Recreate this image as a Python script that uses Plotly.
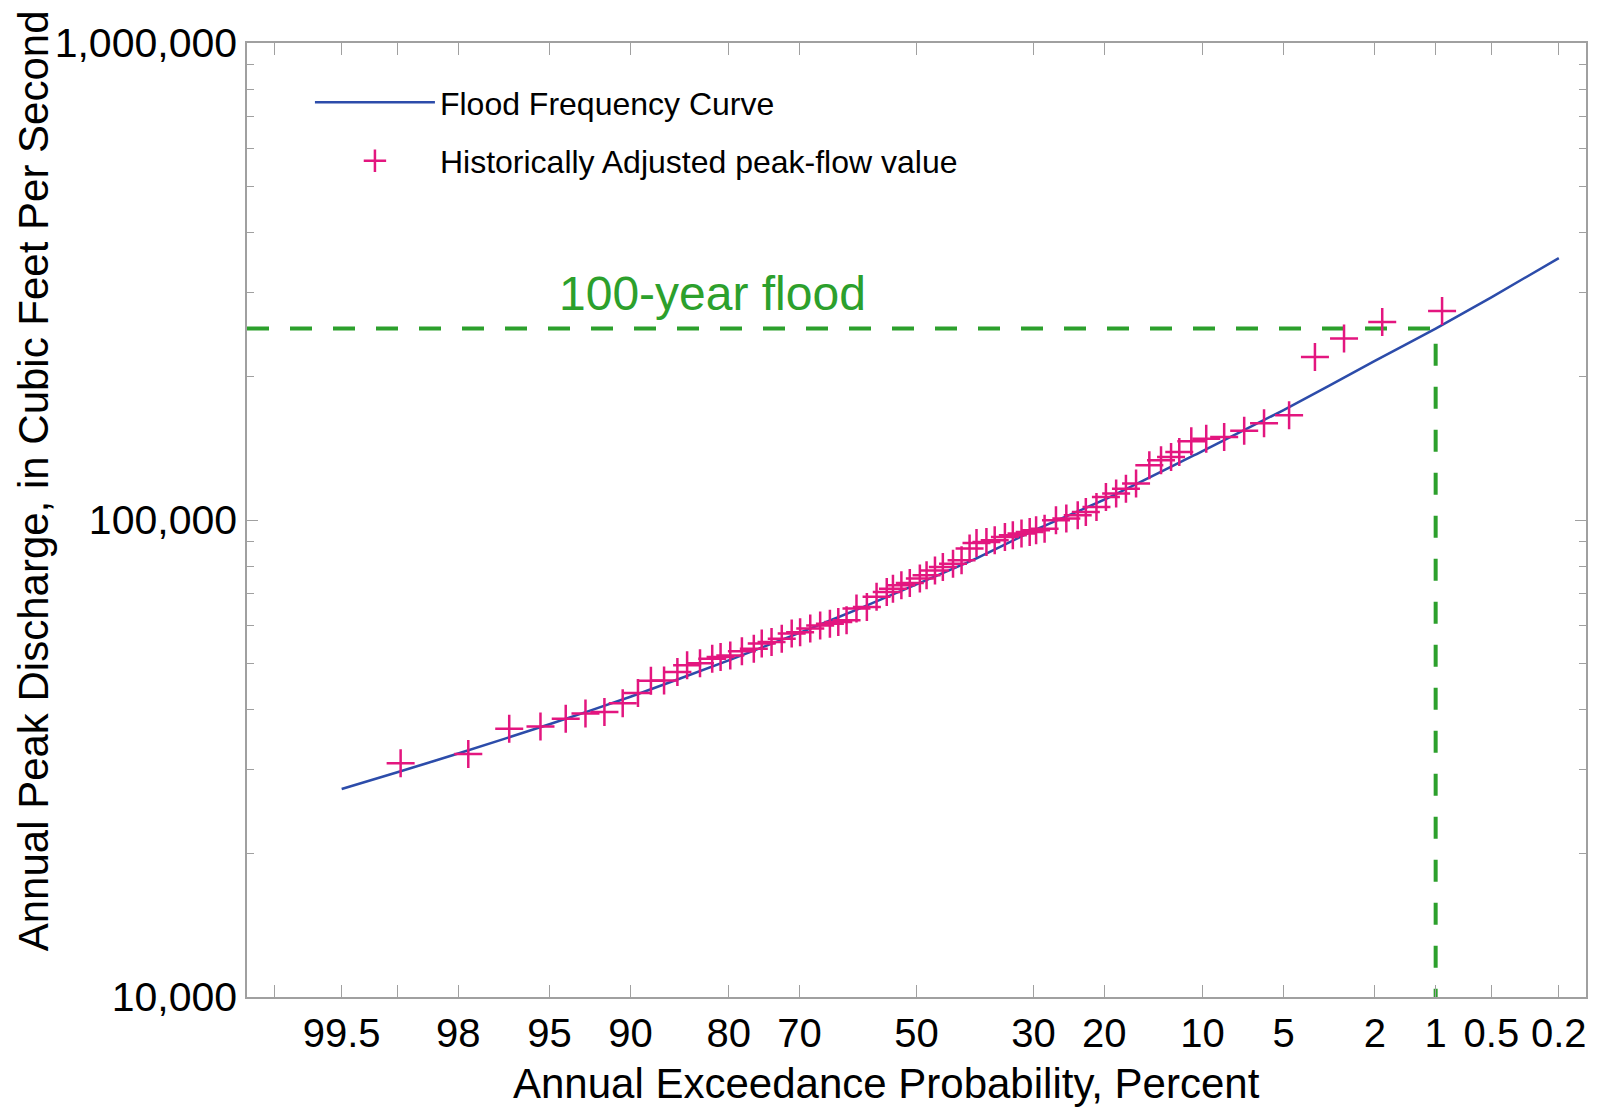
import plotly.graph_objects as go
from statistics import NormalDist
import math

# ---------------- data ----------------
# Historically adjusted annual peak flows: exceedance probability (%) and discharge (cfs)
exceed_pct = [98.96, 97.77, 96.6, 95.4, 94.2, 93.1, 91.9, 90.6, 89.4, 88.3,
              87.1, 85.8, 84.8, 83.4, 82.0, 81.0, 79.8, 78.3, 76.7, 75.6,
              74.2, 72.7, 71.2, 69.9, 68.3, 66.7, 65.1, 63.7, 62.3, 60.6,
              58.8, 57.1, 55.3, 54.2, 52.7, 51.2, 49.4, 48.2, 46.7, 45.3,
              43.5, 42.0, 40.6, 39.4, 37.7, 36.3, 34.6, 33.3, 31.9, 30.6,
              29.6, 28.3, 26.6, 25.1, 23.5, 22.4, 21.0, 19.8, 18.55, 17.4,
              16.26, 14.84, 13.66, 12.7, 11.95, 10.91, 9.71, 8.40, 7.10, 5.97,
              4.75, 3.71, 2.77, 1.845, 0.926]
peak_cfs = [30900, 32300, 36500, 36900, 38300, 39300, 39600, 41300, 43400, 46000,
            46100, 48000, 49600, 50100, 51200, 51600, 52000, 53100, 53700, 55100,
            55500, 56400, 57800, 58200, 59200, 60100, 60600, 61100, 61600, 65200,
            65700, 69000, 70600, 71800, 73000, 73800, 75400, 76600, 78400, 79700,
            81000, 82300, 87100, 89500, 89900, 90700, 92100, 92900, 93700, 94400,
            95200, 95900, 99900, 100700, 102300, 103900, 106500, 111700, 113600, 116300,
            119200, 130200, 133400, 135500, 138900, 146200, 148100, 149300, 153800, 159500,
            165800, 219600, 240100, 260200, 274300]

# Flood frequency curve
curve_pct = [99.5, 99, 98, 95, 90, 80, 70, 60, 50, 40, 30, 20, 10, 5, 2, 1, 0.5, 0.2]
curve_cfs = [27300, 29600, 32400, 37300, 42600, 50800, 58000, 65300, 73300, 82500,
             95000, 110300, 139500, 170000, 215500, 252000, 293000, 354000]

# 100-year flood
flood_pct = 1
flood_cfs = 252000

# Axis ticks
x_tick_pct = [99.8, 99.5, 99, 98, 95, 90, 80, 70, 50, 30, 20, 10, 5, 2, 1, 0.5, 0.2]
x_tick_text = ["", "99.5", "", "98", "95", "90", "80", "70", "50", "30", "20",
               "10", "5", "2", "1", "0.5", "0.2"]
y_tick_vals = [10000, 100000, 1000000]
y_tick_text = ["10,000", "100,000", "1,000,000"]
y_minor_vals = [m * 10 ** e for e in (4, 5) for m in range(2, 10)]

# ---------------- helpers ----------------
nd = NormalDist()


def zpos(p):
    """normal-probability position of an exceedance percentage"""
    return nd.inv_cdf(1 - p / 100.0)


X_RANGE = [-3.0, 3.0]

GREEN = "#2ca02c"
BLUE = "#2c4caa"
PINK = "#e3167f"
AXIS = "#a0a0a0"
FONT = "Liberation Sans, Arial, sans-serif"

fig = go.Figure()

# dashed 100-year flood guide lines
fig.add_trace(go.Scatter(
    x=[X_RANGE[0], zpos(flood_pct), zpos(flood_pct)],
    y=[flood_cfs, flood_cfs, 10000],
    mode="lines",
    line=dict(color=GREEN, width=4, dash="22px,21px"),
    showlegend=False, hoverinfo="skip"))

fig.add_trace(go.Scatter(
    x=[zpos(p) for p in curve_pct], y=curve_cfs,
    mode="lines", name="Flood Frequency Curve",
    line=dict(color=BLUE, width=2.5, shape="spline", smoothing=0.6),
    legendgroup="a"))

fig.add_trace(go.Scatter(
    x=[zpos(p) for p in exceed_pct], y=peak_cfs,
    mode="markers", name="Historically Adjusted peak-flow value",
    marker=dict(symbol="cross-thin", size=20, color=PINK,
                line=dict(color=PINK, width=2.5)),
    legendgroup="b"))

fig.add_annotation(
    text="100-year flood", xref="paper", yref="y",
    x=(557 - 247) / 1341, y=math.log10(flood_cfs),
    xanchor="left", yanchor="bottom", yshift=7, showarrow=False,
    font=dict(size=48, color=GREEN, family=FONT))

fig.add_annotation(
    text="Annual Exceedance Probability, Percent", xref="paper", yref="paper",
    x=(887 - 247) / 1341, y=(997 - 1083) / 954,
    xanchor="center", yanchor="middle", showarrow=False,
    font=dict(size=42, color="black", family=FONT))

fig.add_annotation(
    text="Annual Peak Discharge, in Cubic Feet Per Second", xref="paper", yref="paper",
    x=(33 - 247) / 1341, y=(997 - 481) / 954, textangle=-90,
    xanchor="center", yanchor="middle", showarrow=False,
    font=dict(size=42, color="black", family=FONT))

# page has an 8px body margin: size the figure so it fits the 1598x1115 window
fig.update_layout(
    width=1582, height=1099, autosize=False,
    margin=dict(l=239, r=2, t=35, b=110),
    paper_bgcolor="white", plot_bgcolor="white",
    font=dict(family=FONT, color="black"),
    showlegend=True,
    legend=dict(x=0.047, y=0.9666, xanchor="left", yanchor="top",
                font=dict(size=32, family=FONT, color="black"),
                bgcolor="rgba(0,0,0,0)", itemwidth=120,
                tracegroupgap=14, itemclick=False),
    xaxis=dict(range=X_RANGE, tickmode="array",
               tickvals=[zpos(p) for p in x_tick_pct], ticktext=x_tick_text,
               ticks="inside", ticklen=12, tickwidth=1.3, tickcolor=AXIS,
               showline=True, linecolor=AXIS, linewidth=1.5, mirror="ticks",
               showgrid=False, zeroline=False, tickangle=0,
               tickfont=dict(size=40, family=FONT, color="black")),
    yaxis=dict(type="log", range=[4, 6], tickmode="array",
               tickvals=y_tick_vals, ticktext=y_tick_text,
               ticks="inside", ticklen=11, tickwidth=1.3, tickcolor=AXIS,
               showline=True, linecolor=AXIS, linewidth=1.5, mirror="ticks",
               showgrid=False, zeroline=False,
               minor=dict(tickmode="array", tickvals=y_minor_vals,
                          ticks="inside", ticklen=7, tickwidth=1.3,
                          tickcolor=AXIS, showgrid=False),
               tickfont=dict(size=41, family=FONT, color="black")),
)

fig.write_html("out.html")
